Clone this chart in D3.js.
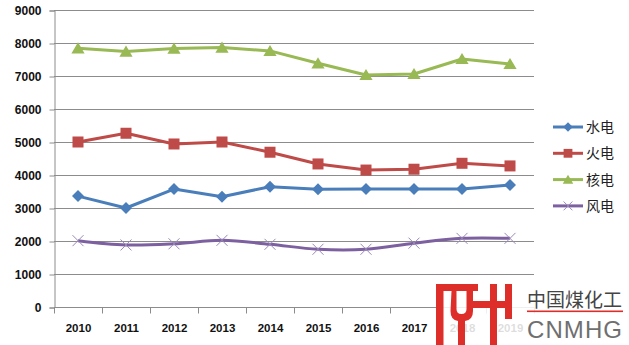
<!DOCTYPE html>
<html>
<head>
<meta charset="utf-8">
<script src="https://cdn.jsdelivr.net/npm/d3@7"></script>
<style>
  html, body { margin: 0; padding: 0; background: #fff; }
  svg { display: block; }
</style>
</head>
<body>
<svg id="chart" width="629" height="345"></svg>
<script>
// Years on the category axis
const years = ["2010","2011","2012","2013","2014","2015","2016","2017","2018","2019"];
// Utilisation hours per generation type
const hydro   = [3360, 3000, 3575, 3340, 3645, 3565, 3575, 3575, 3575, 3697];
const thermal = [5000, 5265, 4940, 5000, 4690, 4335, 4150, 4175, 4355, 4275];
const nuclear = [7840, 7740, 7830, 7860, 7760, 7385, 7030, 7060, 7515, 7365];
const wind    = [2010, 1880, 1915, 2020, 1900, 1750, 1750, 1935, 2080, 2080];
const yTicks  = [0, 1000, 2000, 3000, 4000, 5000, 6000, 7000, 8000, 9000];
const seriesNames = ["水电", "火电", "核电", "风电"];

const series = [
  { name: seriesNames[0], values: hydro,   color: "#4A7EBB", marker: "diamond",  smooth: false },
  { name: seriesNames[1], values: thermal, color: "#BE4B48", marker: "square",   smooth: false },
  { name: seriesNames[2], values: nuclear, color: "#98B954", marker: "triangle", smooth: false },
  { name: seriesNames[3], values: wind,    color: "#7D60A0", marker: "cross",    smooth: true  }
];

const svg = d3.select("#chart");
const plot = { left: 54, right: 534, top: 10, bottom: 307 };

const x = d3.scaleBand().domain(years).range([plot.left, plot.right]).paddingInner(0).paddingOuter(0);
const y = d3.scaleLinear().domain([0, 9000]).range([plot.bottom, plot.top]);

// horizontal gridlines
svg.append("g")
  .selectAll("line")
  .data(yTicks)
  .join("line")
  .attr("x1", plot.left).attr("x2", plot.right)
  .attr("y1", d => y(d) + 0.5).attr("y2", d => y(d) + 0.5)
  .attr("stroke", "#8c8c8c").attr("stroke-width", 1);

// y axis
const yAxis = svg.append("g")
  .attr("transform", `translate(${plot.left + 0.5},0.5)`)
  .call(d3.axisLeft(y).tickValues(yTicks).tickSize(5).tickPadding(8).tickFormat(d3.format("d")));
yAxis.select(".domain").attr("stroke", "#8c8c8c");
yAxis.selectAll(".tick line").attr("stroke", "#8c8c8c");
yAxis.selectAll("text")
  .attr("font-family", "'Liberation Sans', Arial, sans-serif")
  .attr("font-size", 12).attr("font-weight", "bold").attr("fill", "#111");

// x axis: ticks sit on the category boundaries
const xAxis = svg.append("g")
  .attr("transform", `translate(0.5,${plot.bottom + 0.5})`);
xAxis.append("line")
  .attr("x1", plot.left).attr("x2", plot.right)
  .attr("stroke", "#8c8c8c");
xAxis.selectAll("line.tk")
  .data(years.concat(["end"]))
  .join("line").attr("class", "tk")
  .attr("x1", (d, i) => plot.left + i * x.bandwidth())
  .attr("x2", (d, i) => plot.left + i * x.bandwidth())
  .attr("y1", 0).attr("y2", 6)
  .attr("stroke", "#8c8c8c");
xAxis.selectAll("text")
  .data(years)
  .join("text")
  .attr("x", d => x(d) + x.bandwidth() / 2)
  .attr("y", 24)
  .attr("text-anchor", "middle")
  .attr("font-family", "'Liberation Sans', Arial, sans-serif")
  .attr("font-size", 11.5).attr("font-weight", "bold").attr("fill", "#111")
  .text(d => d);

const cx = d => x(d) + x.bandwidth() / 2;

function drawMarker(g, type, color, size) {
  const s = size;
  if (type === "diamond") {
    g.append("path").attr("d", `M0,${-s}L${s},0L0,${s}L${-s},0Z`).attr("fill", color);
  } else if (type === "square") {
    g.append("rect").attr("x", -s).attr("y", -s).attr("width", 2 * s).attr("height", 2 * s).attr("fill", color);
  } else if (type === "triangle") {
    g.append("path").attr("d", `M0,${-s}L${s * 1.1},${s * 0.85}L${-s * 1.1},${s * 0.85}Z`).attr("fill", color);
  } else if (type === "cross") {
    g.append("path").attr("d", `M${-s},${-s}L${s},${s}M${s},${-s}L${-s},${s}`)
      .attr("stroke", "#9a88b8").attr("stroke-width", 1).attr("fill", "none");
  }
}

const markerSize = { diamond: 6, square: 5.5, triangle: 6, cross: 5.5 };

series.forEach(s => {
  const line = d3.line()
    .x((d, i) => cx(years[i]))
    .y(d => y(d))
    .curve(s.smooth ? d3.curveCatmullRom.alpha(0.5) : d3.curveLinear);
  svg.append("path")
    .datum(s.values)
    .attr("d", line)
    .attr("fill", "none")
    .attr("stroke", s.color)
    .attr("stroke-width", 3)
    .attr("stroke-linejoin", "round");
  s.values.forEach((v, i) => {
    const g = svg.append("g").attr("transform", `translate(${cx(years[i])},${y(v)})`);
    drawMarker(g, s.marker, s.color, markerSize[s.marker]);
  });
});

// legend
const legend = svg.append("g");
series.forEach((s, i) => {
  const ly = 127 + i * 26.3;
  const g = legend.append("g").attr("transform", `translate(0,${ly})`);
  g.append("line").attr("x1", 553).attr("x2", 583).attr("y1", 0).attr("y2", 0)
    .attr("stroke", s.color).attr("stroke-width", 3);
  const mg = g.append("g").attr("transform", "translate(568,0)");
  drawMarker(mg, s.marker, s.color, markerSize[s.marker] * 0.8);
  g.append("text").attr("x", 586).attr("y", 5)
    .attr("font-family", "'Noto Sans CJK SC', sans-serif")
    .attr("font-size", 14).attr("fill", "#222")
    .text(s.name);
});

// publisher mark in the lower-right corner
const mark = svg.append("g");
mark.append("rect").attr("x", 436).attr("y", 283).attr("width", 193).attr("height", 62)
  .attr("fill", "#fff").attr("opacity", 0.86);
const red = "#DE2E2A";
// M part
mark.append("rect").attr("x", 436).attr("y", 284).attr("width", 7.5).attr("height", 61).attr("fill", red);
mark.append("rect").attr("x", 436).attr("y", 284).attr("width", 42).attr("height", 7).attr("fill", red);
mark.append("path")
  .attr("d", "M451.5,291 h5 v18 q0,5 5,5 q5,0 5,-5 v-18 h6.5 v20 q0,9 -8,10 v24 h-7 v-24 q-7.5,-1 -7.5,-10 Z")
  .attr("fill", red);
// H part
mark.append("rect").attr("x", 490).attr("y", 284).attr("width", 7).attr("height", 61).attr("fill", red);
mark.append("rect").attr("x", 472).attr("y", 301).attr("width", 40).attr("height", 7).attr("fill", red);
mark.append("rect").attr("x", 505).attr("y", 284).attr("width", 7).attr("height", 35).attr("fill", red);
mark.append("text").attr("x", 527).attr("y", 306.5)
  .attr("font-family", "'Noto Sans CJK SC', sans-serif")
  .attr("font-size", 19).attr("fill", "#444")
  .attr("textLength", 95).attr("lengthAdjust", "spacingAndGlyphs")
  .text("中国煤化工");
mark.append("rect").attr("x", 527).attr("y", 310.5).attr("width", 96).attr("height", 1.6).attr("fill", red);
mark.append("text").attr("x", 527).attr("y", 338)
  .attr("font-family", "'Liberation Sans', Arial, sans-serif")
  .attr("font-size", 24).attr("fill", "#6f6f6f")
  .attr("textLength", 95).attr("lengthAdjust", "spacing")
  .text("CNMHG");
</script>
</body>
</html>
